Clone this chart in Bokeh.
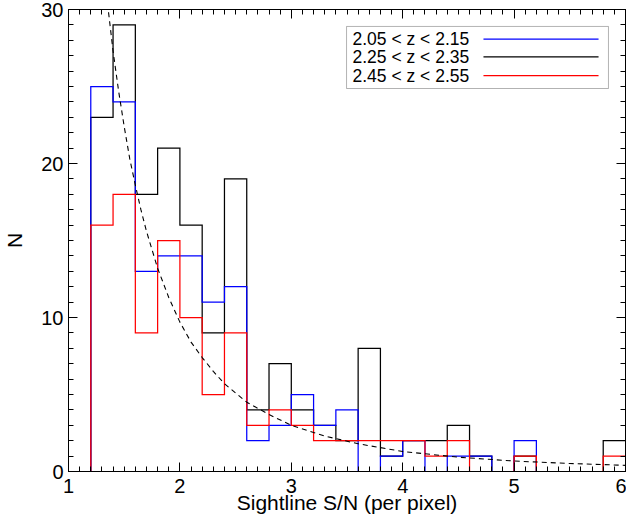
import numpy as np
from bokeh.plotting import figure
from bokeh.models import FixedTicker, LinearAxis, Range1d, BoxAnnotation, Label
from bokeh.embed import file_html
from bokeh.resources import INLINE

# ---- data ----
bin_centers = [1.1, 1.3, 1.5, 1.7, 1.9, 2.1, 2.3, 2.5, 2.7, 2.9, 3.1, 3.3, 3.5,
               3.7, 3.9, 4.1, 4.3, 4.5, 4.7, 4.9, 5.1, 5.3, 5.5, 5.7, 5.9]
bin_width = 0.2
counts_z210 = [0, 25, 24, 13, 14, 14, 11, 12, 2, 3, 5, 3, 4, 0, 1, 2, 0, 1, 1, 0, 2, 0, 0, 0, 0]
counts_z230 = [0, 23, 29, 18, 21, 16, 9, 19, 4, 7, 4, 3, 2, 8, 1, 2, 2, 3, 1, 0, 1, 0, 0, 0, 2]
counts_z250 = [0, 16, 18, 9, 15, 10, 5, 9, 3, 4, 3, 2, 2, 2, 2, 2, 1, 2, 0, 0, 1, 0, 0, 0, 1]

series_labels = ["2.05 < z < 2.15", "2.25 < z < 2.35", "2.45 < z < 2.55"]
series_colors = ["#0000ff", "#000000", "#ff0000"]

# dashed reference curve
sn_curve = [1.35, 1.4, 1.45, 1.5, 1.55, 1.6, 1.65, 1.7, 1.8, 1.9, 2.0, 2.1, 2.2, 2.3,
            2.4, 2.5, 2.6, 2.8, 3.0, 3.3, 3.6, 4.0, 4.5, 5.0, 5.5, 6.0]
n_curve = [30.4, 27.3, 24.7, 22.4, 20.3, 18.6, 17.0, 15.6, 13.2, 11.3, 9.7, 8.4, 7.4, 6.5,
           5.7, 5.1, 4.5, 3.7, 3.0, 2.3, 1.8, 1.3, 0.93, 0.68, 0.52, 0.40]

x_ticks = [1, 2, 3, 4, 5, 6]
x_tick_labels = ["1", "2", "3", "4", "5", "6"]
y_ticks = [0, 10, 20, 30]
y_tick_labels = ["0", "10", "20", "30"]

FONT = "Liberation Sans"


def step_path(centers, counts, w):
    c = np.asarray(centers, float)
    v = np.asarray(counts, float)
    edges = c + w / 2.0
    xs = np.concatenate([[c[0]], np.repeat(edges[:-1], 2), [edges[-1]]])
    ys = np.repeat(v, 2)
    return xs, ys


p = figure(width=626, height=521, x_range=Range1d(1, 6), y_range=Range1d(0, 30),
           output_backend="svg", toolbar_location=None,
           min_border_left=68, min_border_right=1, min_border_top=9, min_border_bottom=50)
p.xgrid.visible = False
p.ygrid.visible = False
p.outline_line_color = "black"
p.outline_line_width = 1
p.background_fill_color = "white"
p.border_fill_color = "white"

x_minor = [round(v, 2) for v in np.arange(1.0, 6.001, 0.1)]
y_minor = list(range(0, 31))


def style_axis(ax, ticks, minor):
    ax.ticker = FixedTicker(ticks=ticks, minor_ticks=minor)
    ax.axis_line_color = "black"
    ax.major_tick_line_color = "black"
    ax.minor_tick_line_color = "black"
    ax.major_tick_in = 9
    ax.major_tick_out = 0
    ax.minor_tick_in = 5
    ax.minor_tick_out = 0


# bottom axis
xa = p.xaxis[0]
style_axis(xa, x_ticks, x_minor)
xa.major_label_overrides = {t: s for t, s in zip(x_ticks, x_tick_labels)}
xa.major_label_text_font = FONT
xa.major_label_text_font_size = "20px"
xa.major_label_text_color = "black"
xa.major_label_standoff = 7
xa.axis_label = "Sightline S/N (per pixel)"
xa.axis_label_text_font = FONT
xa.axis_label_text_font_size = "21px"
xa.axis_label_text_font_style = "normal"
xa.axis_label_text_color = "black"
xa.axis_label_standoff = -5

# left axis
ya = p.yaxis[0]
style_axis(ya, y_ticks, y_minor)
ya.major_label_overrides = {t: s for t, s in zip(y_ticks, y_tick_labels)}
ya.major_label_text_font = FONT
ya.major_label_text_font_size = "20px"
ya.major_label_text_color = "black"
ya.major_label_standoff = 5
ya.axis_label = "N"
ya.axis_label_text_font = FONT
ya.axis_label_text_font_size = "21px"
ya.axis_label_text_font_style = "normal"
ya.axis_label_text_color = "black"
ya.axis_label_standoff = 12

# top and right axes: ticks only
top = LinearAxis()
style_axis(top, x_ticks, x_minor)
top.major_label_text_color = None
top.major_label_text_font_size = "1px"
top.major_label_standoff = 0
p.add_layout(top, "above")

right = LinearAxis()
style_axis(right, y_ticks, y_minor)
right.major_label_text_color = None
right.major_label_text_font_size = "1px"
right.major_label_standoff = 0
p.add_layout(right, "right")

# histograms (black first, then blue, then red on top)
for counts, color in [(counts_z230, series_colors[1]), (counts_z210, series_colors[0]),
                      (counts_z250, series_colors[2])]:
    xs, ys = step_path(bin_centers, counts, bin_width)
    p.line(xs, ys, line_color=color, line_width=1.25, line_join="miter")

p.line(sn_curve, n_curve, line_color="black", line_width=1.1, line_dash="5 4")

# legend (label left, line right)
box = BoxAnnotation(left=3.496, right=5.847, bottom=24.87, top=28.90, fill_color="white",
                    fill_alpha=1.0, line_color="black", line_width=1, level="underlay")
p.add_layout(box)
leg_y = [28.08, 26.92, 25.71]
for lab, col, yy in zip(series_labels, series_colors, leg_y):
    p.add_layout(Label(x=3.549, y=yy, text=lab, text_align="left", text_baseline="middle",
                       text_font=FONT, text_font_size="17.5px", text_color="black"))
    p.line([4.725, 5.758], [yy, yy], line_color=col, line_width=1.2)

open("out.html", "w").write(file_html(p, INLINE))
